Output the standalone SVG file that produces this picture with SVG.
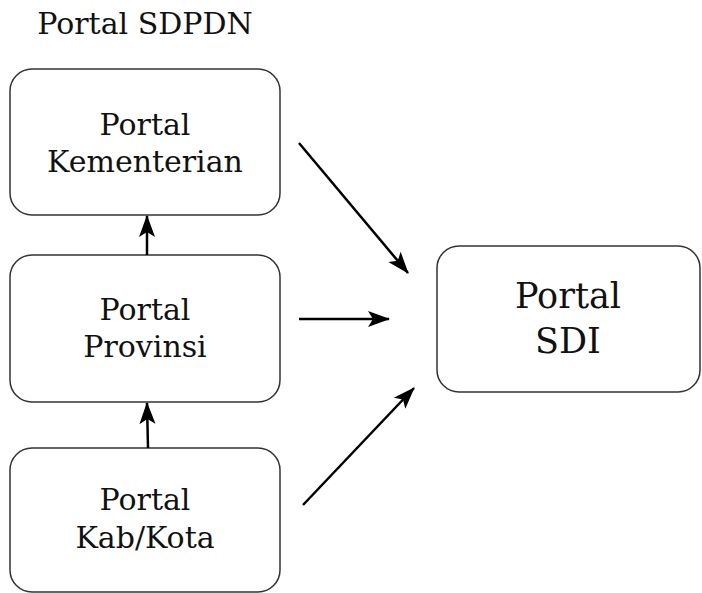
<svg xmlns="http://www.w3.org/2000/svg" width="702" height="593" viewBox="0 0 702 593">
<defs>
<style>
.box{fill:#fff;stroke:#333;stroke-width:1.5}
.t{font-family:"DejaVu Serif","Liberation Serif",serif;font-size:30px;fill:#111;text-anchor:middle}
.big{font-size:35px}
.c{stroke:#000;stroke-width:2.5;fill:none;marker-end:url(#ah)}
</style>
<marker id="ah" viewBox="0 0 22 22" refX="21" refY="11" markerWidth="22" markerHeight="22" orient="auto" markerUnits="userSpaceOnUse">
<path d="M0,3 L22,11 L0,19 L5,11 Z" fill="#000"/>
</marker>
</defs>
<rect width="702" height="593" fill="#fff"/>
<text class="t" x="145" y="34" id="title">Portal SDPDN</text>
<g id="kementerian">
<rect class="box" x="10" y="69" width="270" height="146" rx="22"/>
<text class="t" x="145" y="135">Portal</text>
<text class="t" x="145" y="172">Kementerian</text>
</g>
<g id="provinsi">
<rect class="box" x="10" y="255" width="270" height="147" rx="22"/>
<text class="t" x="145" y="320">Portal</text>
<text class="t" x="145" y="357">Provinsi</text>
</g>
<g id="kabkota">
<rect class="box" x="10" y="448" width="270" height="144" rx="22"/>
<text class="t" x="145" y="510">Portal</text>
<text class="t" x="145" y="548">Kab/Kota</text>
</g>
<g id="sdi">
<rect class="box" x="437" y="246" width="263" height="146" rx="22"/>
<text class="t big" x="568" y="308">Portal</text>
<text class="t big" x="568" y="353">SDI</text>
</g>
<g id="connectors">
<line class="c" x1="147" y1="255" x2="147" y2="216"/>
<line class="c" x1="148" y1="448" x2="147" y2="403"/>
<line class="c" x1="299" y1="143" x2="408" y2="273"/>
<line class="c" x1="299" y1="319" x2="389" y2="319"/>
<line class="c" x1="303" y1="505" x2="414" y2="388"/>
</g>
</svg>
